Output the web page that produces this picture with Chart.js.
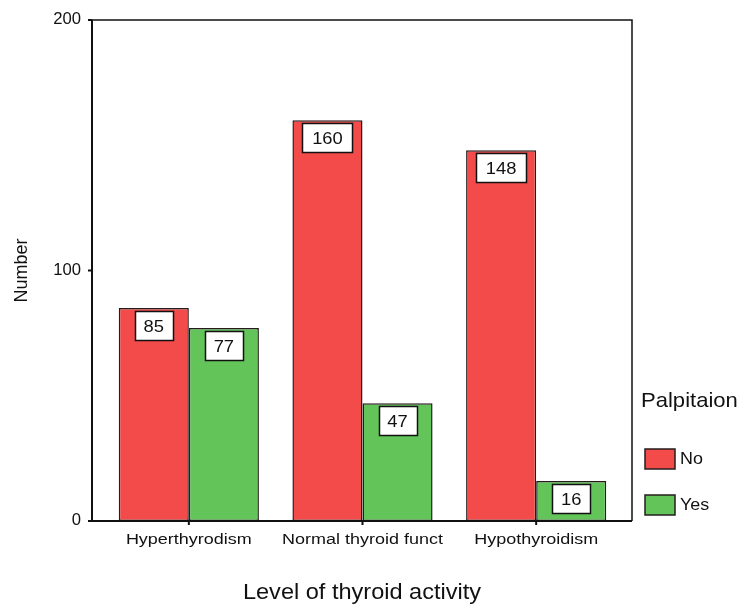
<!DOCTYPE html>
<html>
<head>
<meta charset="utf-8">
<script src="https://cdn.jsdelivr.net/npm/chart.js@4/dist/chart.umd.min.js"></script>
<style>
  html, body { margin: 0; padding: 0; background: #ffffff; }
  #wrap { width: 741px; height: 606px; }
</style>
</head>
<body>
<div id="wrap"><canvas id="c" width="741" height="606"></canvas></div>
<script>
// Thyroid activity vs. palpitation counts
const categories = ["Hyperthyrodism", "Normal thyroid funct", "Hypothyroidism"];
const noValues = [85, 160, 148];
const yesValues = [77, 47, 16];
const yTicks = [0, 100, 200];
const seriesNames = ["No", "Yes"];
const legendTitle = "Palpitaion";
const xTitle = "Level of thyroid activity";
const yTitle = "Number";

const RED = "#f34a4a";
const GREEN = "#62c459";
const EDGE = "#261c1c";
const FONT = "'Liberation Sans', Arial, sans-serif";

// draw text with a slight horizontal stretch (wide sans look)
function wideText(ctx, text, x, y, stretch) {
  ctx.save();
  ctx.translate(x, y);
  ctx.scale(stretch, 1);
  ctx.fillText(text, 0, 0);
  ctx.restore();
}

const decorPlugin = {
  id: "decor",
  afterDatasetsDraw(chart) {
    const ctx = chart.ctx;
    const a = chart.chartArea;
    const ys = chart.scales.y;
    const xs = chart.scales.x;
    const frameL = a.left - 10, frameR = a.right + 9;
    const y0 = ys.getPixelForValue(0), yTop = ys.getPixelForValue(200);

    ctx.save();
    // frame
    ctx.strokeStyle = "#111";
    ctx.lineWidth = 1.5;
    ctx.beginPath();
    ctx.moveTo(frameL, yTop);
    ctx.lineTo(frameR, yTop);
    ctx.lineTo(frameR, y0);
    ctx.stroke();
    ctx.lineWidth = 2;
    ctx.beginPath();
    ctx.moveTo(frameL, yTop);
    ctx.lineTo(frameL, y0);
    ctx.lineTo(frameR, y0);
    ctx.stroke();

    // y ticks + labels
    ctx.fillStyle = "#111";
    ctx.font = "16px " + FONT;
    ctx.textAlign = "right";
    ctx.textBaseline = "middle";
    yTicks.forEach(v => {
      const py = ys.getPixelForValue(v);
      ctx.beginPath();
      ctx.moveTo(frameL - 4, py);
      ctx.lineTo(frameL, py);
      ctx.stroke();
      wideText(ctx, String(v), frameL - 11, py, 1.04);
    });

    // x ticks + category labels
    ctx.font = "15.5px " + FONT;
    ctx.textAlign = "center";
    ctx.textBaseline = "middle";
    categories.forEach((c, i) => {
      const px = xs.getPixelForValue(i);
      ctx.beginPath();
      ctx.moveTo(px, y0);
      ctx.lineTo(px, y0 + 4);
      ctx.stroke();
      wideText(ctx, c, px, 540, 1.16);
    });

    // axis titles
    ctx.font = "22px " + FONT;
    wideText(ctx, xTitle, (frameL + frameR) / 2, 593, 1.07);
    ctx.save();
    ctx.translate(22, (yTop + y0) / 2);
    ctx.rotate(-Math.PI / 2);
    ctx.font = "18px " + FONT;
    ctx.fillText(yTitle, 0, 0);
    ctx.restore();

    // value boxes
    ctx.font = "17px " + FONT;
    chart.data.datasets.forEach((ds, di) => {
      const meta = chart.getDatasetMeta(di);
      meta.data.forEach((bar, i) => {
        const label = String(ds.data[i]);
        const w = label.length >= 3 ? 50 : 38;
        const h = 29;
        const bx = Math.round(bar.x - w / 2) + 0.5;
        const by = Math.round(bar.y + 3) + 0.5;
        ctx.fillStyle = "#ffffff";
        ctx.fillRect(bx, by, w, h);
        ctx.lineWidth = 1.5;
        ctx.strokeStyle = "#111";
        ctx.strokeRect(bx, by, w, h);
        ctx.fillStyle = "#111";
        ctx.textAlign = "center";
        ctx.textBaseline = "middle";
        wideText(ctx, label, bar.x, by + h / 2 + 1, 1.08);
      });
    });

    // legend
    ctx.textAlign = "left";
    ctx.textBaseline = "middle";
    ctx.font = "21px " + FONT;
    ctx.fillStyle = "#111";
    wideText(ctx, legendTitle, 641, 401, 1.05);
    ctx.font = "16px " + FONT;
    const rows = [459, 505];
    chart.data.datasets.forEach((ds, di) => {
      const ly = rows[di];
      ctx.fillStyle = ds.backgroundColor;
      ctx.fillRect(645, ly - 10, 30, 20);
      ctx.strokeStyle = EDGE;
      ctx.lineWidth = 1.5;
      ctx.strokeRect(645, ly - 10, 30, 20);
      ctx.fillStyle = "#111";
      wideText(ctx, ds.label, 680, ly + 1, 1.12);
    });
    ctx.restore();
  }
};

new Chart(document.getElementById("c"), {
  type: "bar",
  data: {
    labels: categories,
    datasets: [
      { label: seriesNames[0], data: noValues, backgroundColor: RED, borderColor: EDGE, borderWidth: 1.5, borderSkipped: false },
      { label: seriesNames[1], data: yesValues, backgroundColor: GREEN, borderColor: EDGE, borderWidth: 1.5, borderSkipped: false }
    ]
  },
  options: {
    responsive: false,
    animation: false,
    devicePixelRatio: 1,
    layout: { padding: { left: 102, right: 118, top: 20, bottom: 85 } },
    datasets: { bar: { categoryPercentage: 0.807, barPercentage: 1.0 } },
    scales: {
      x: { display: false, offset: true },
      y: { display: false, min: 0, max: 200 }
    },
    plugins: {
      legend: { display: false },
      tooltip: { enabled: false }
    }
  },
  plugins: [decorPlugin]
});
</script>
</body>
</html>
